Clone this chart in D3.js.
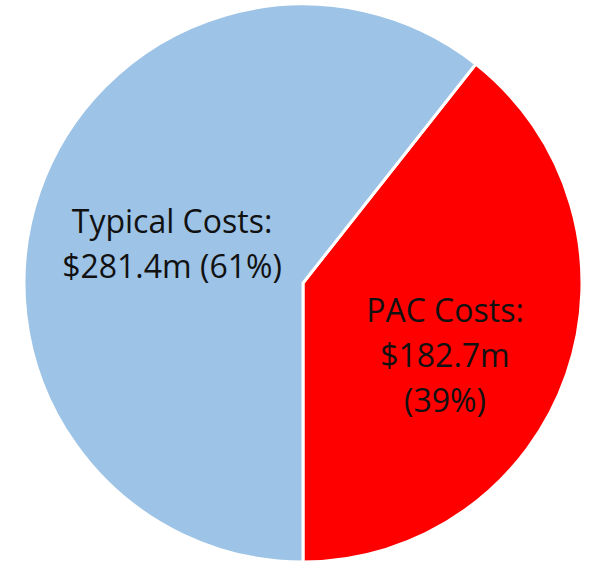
<!DOCTYPE html>
<html>
<head>
<meta charset="utf-8">
<script src="https://cdn.jsdelivr.net/npm/d3@7"></script>
<style>
  body { margin: 0; background: #fff; }
</style>
</head>
<body>
<svg id="chart"></svg>
<script>
// slice data
var categories = ['PAC Costs', 'Typical Costs']
var values = [182.7, 281.4]
var labelLines = [
  ['PAC Costs:', '$182.7m', '(39%)'],
  ['Typical Costs:', '$281.4m (61%)']
]
var colors = ['#ff0000', '#9dc3e6']

var w = 592, h = 562
var cx = 303, cy = 283, r = 279

var svg = d3.select('#chart')
  .attr('width', w)
  .attr('height', h)

var g = svg.append('g')
  .attr('transform', `translate(${cx}, ${cy})`)

var data = categories.map(function(c, i){
  return {name: c, value: values[i], lines: labelLines[i], color: colors[i]}
})

// red slice starts at the bottom and runs back up to the right
var total = d3.sum(values)
var pacAngle = values[0] / total * 2 * Math.PI
var pie = d3.pie()
  .value(function(d){ return d.value })
  .sort(null)
  .startAngle(Math.PI - pacAngle)
  .endAngle(3 * Math.PI - pacAngle)

var arc = d3.arc().innerRadius(0).outerRadius(r)

var arcs = pie(data)

g.selectAll('path')
  .data(arcs)
  .join('path')
  .attr('d', arc)
  .attr('fill', function(d){ return d.data.color })
  .attr('stroke', '#fff')
  .attr('stroke-width', 3)
  .attr('stroke-linejoin', 'miter')

// labels, placed around each slice's centroid
var labelArc = d3.arc().innerRadius(0).outerRadius(290)
var nudge = [[5, 25], [6, 9]]
var lineH = 45

g.selectAll('.lbl')
  .data(arcs)
  .join('text')
  .attr('class', 'lbl')
  .attr('text-anchor', 'middle')
  .attr('font-family', 'Open Sans, sans-serif')
  .attr('font-size', 32)
  .attr('fill', '#111')
  .each(function(d, i){
    var c = labelArc.centroid(d)
    var n = d.data.lines.length
    var x = c[0] + nudge[i][0]
    var y0 = c[1] + nudge[i][1] - (n - 1) * lineH / 2
    d3.select(this).selectAll('tspan')
      .data(d.data.lines)
      .join('tspan')
      .attr('x', x)
      .attr('y', function(t, j){ return y0 + j * lineH })
      .attr('dy', '0.35em')
      .text(function(t){ return t })
  })
</script>
</body>
</html>
